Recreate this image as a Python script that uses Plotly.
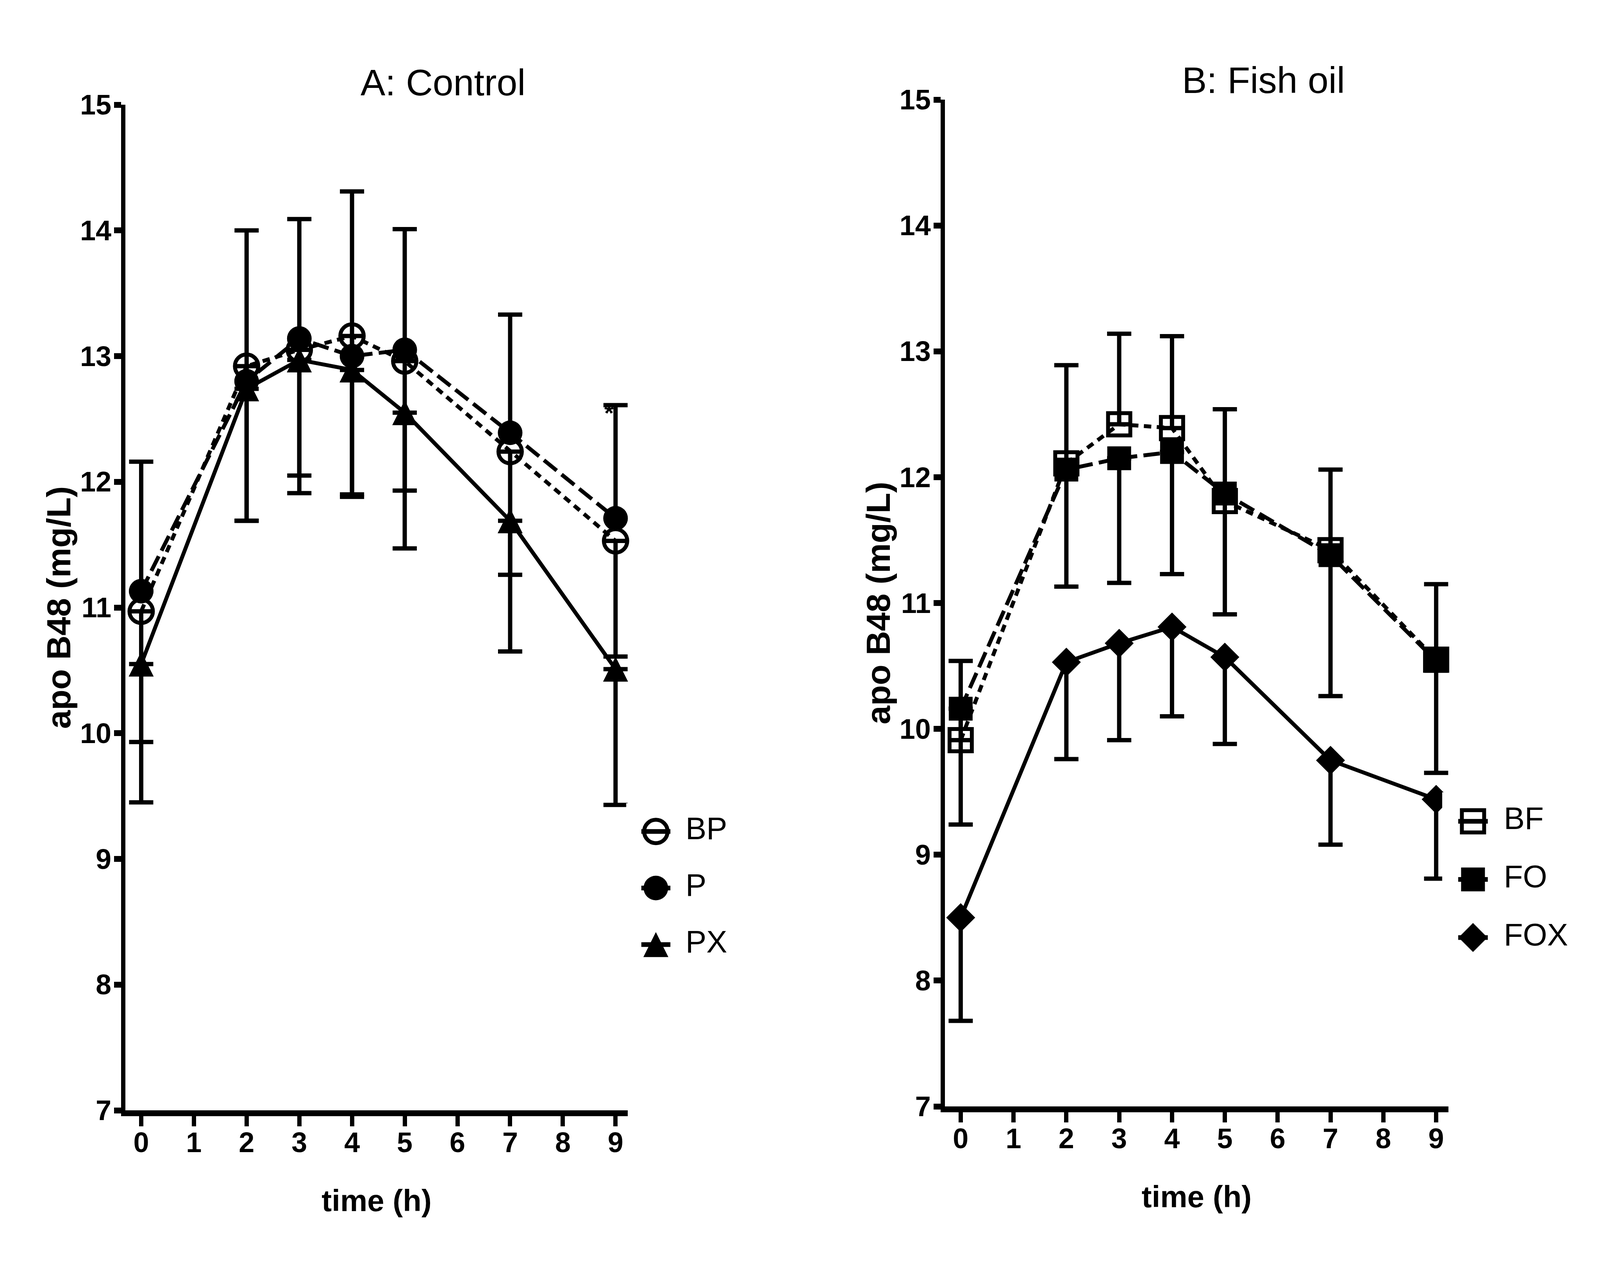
import plotly.graph_objects as go

# time points (h)
times = [0, 2, 3, 4, 5, 7, 9]

# A: Control
bp = [10.97, 12.92, 13.05, 13.16, 12.96, 12.24, 11.53]
bp_err = [1.04, 1.23, 1.00, 1.26, 1.03, 0.98, 0.92]
p = [11.13, 12.80, 13.14, 13.00, 13.05, 12.39, 11.71]
p_err = [1.03, 1.20, 0.95, 1.31, 0.96, 0.94, 0.90]
px = [10.55, 12.74, 12.97, 12.89, 12.55, 11.69, 10.51]
px_err = [1.10, 1.05, 1.06, 1.01, 1.08, 1.04, 1.08]

# B: Fish oil
bf = [9.91, 12.11, 12.42, 12.39, 11.81, 11.42, 10.55]
bf_err = [0.63, 0.78, 0.72, 0.73, 0.73, 0.64, 0.60]
fo = [10.16, 12.06, 12.15, 12.20, 11.87, 11.38, 10.54]
fo_err = [0.92, 0.93, 0.99, 0.97, 0.96, 1.12, 0.89]
fox = [8.50, 10.53, 10.68, 10.81, 10.57, 9.75, 9.44]
fox_err = [0.82, 0.77, 0.77, 0.71, 0.69, 0.67, 0.63]

names_a = ["BP", "P", "PX"]
names_b = ["BF", "FO", "FOX"]

FONT = "Liberation Sans, Arial, sans-serif"

# the window comes up 4096 css px wide (not 5506), so the 5506x3284
# layout is squeezed horizontally; body keeps its 8px default margin
REF_W = 5506
PAGE_W, PAGE_H = 4096, 3284
SX = PAGE_W / REF_W
PAD = 8
FW = PAGE_W - 2 * PAD
FH = PAGE_H - 2 * PAD


def fx(X):
    return (X * SX - PAD) / FW


def fy(Y):
    return 1 - (Y - PAD) / FH


# marker / line style per group
# (PX: an upturned arrow-down, pulled back by half its size, gives a
# centred triangle that is as tall as it is wide)
STYLE = {
    "BP": dict(symbol="circle-open", size=60, lw=10, dash="19px,14px"),
    "P": dict(symbol="circle", size=63, lw=0, dash="42px,16px"),
    "PX": dict(symbol="arrow-down", size=64, lw=0, dash="solid", angle=180, standoff=32),
    "BF": dict(symbol="square-open", size=57, lw=10, dash="19px,14px"),
    "FO": dict(symbol="square", size=61, lw=0, dash="42px,16px"),
    "FOX": dict(symbol="diamond", size=57, lw=0, dash="solid"),
}


def series(name, y, err, up, xa, ya):
    st = STYLE[name]
    zeros = [0] * len(err)
    return go.Scatter(
        x=times,
        y=y,
        name=name,
        mode="lines+markers",
        xaxis=xa,
        yaxis=ya,
        showlegend=False,
        cliponaxis=False,
        line=dict(color="black", width=10, dash=st["dash"]),
        marker=dict(
            symbol=st["symbol"],
            size=st["size"],
            angle=st.get("angle", 0),
            standoff=st.get("standoff", 0),
            color="black",
            opacity=1,
            line=dict(color="black", width=st["lw"]),
        ),
        error_y=dict(
            type="data",
            symmetric=False,
            array=err if up else zeros,
            arrayminus=zeros if up else err,
            color="black",
            thickness=11,
            width=31,
        ),
    )


def key(names, xa, ya, half):
    # hand-made key so the symbols keep their plotted size
    sts = [STYLE[n] for n in names]
    marks = go.Scatter(
        x=[0] * len(names),
        y=names,
        mode="markers",
        xaxis=xa,
        yaxis=ya,
        showlegend=False,
        cliponaxis=False,
        marker=dict(
            symbol=[s["symbol"] for s in sts],
            size=[s["size"] for s in sts],
            angle=[s.get("angle", 0) for s in sts],
            standoff=[s.get("standoff", 0) for s in sts],
            color="black",
            opacity=1,
            line=dict(color="black", width=[s["lw"] for s in sts]),
        ),
        error_x=dict(type="constant", value=half, color="black", thickness=12, width=0),
    )
    labels = go.Scatter(
        x=[1] * len(names),
        y=names,
        mode="text",
        text=names,
        textposition="middle right",
        textfont=dict(family=FONT, size=80, color="black"),
        xaxis=xa,
        yaxis=ya,
        showlegend=False,
        cliponaxis=False,
    )
    return [marks, labels]


traces = [
    series("BP", bp, bp_err, False, "x", "y"),
    series("P", p, p_err, True, "x", "y"),
    series("PX", px, px_err, False, "x", "y"),
    series("BF", bf, bf_err, True, "x2", "y2"),
    series("FO", fo, fo_err, False, "x2", "y2"),
    series("FOX", fox, fox_err, False, "x2", "y2"),
]
traces += key(names_a, "x3", "y3", 0.49)
traces += key(names_b, "x4", "y4", 0.48)


def xax(domain, anchor):
    return dict(
        domain=domain,
        anchor=anchor,
        range=[-0.297, 9.23],
        tickmode="linear",
        tick0=0,
        dtick=1,
        ticks="outside",
        ticklen=26,
        tickwidth=11,
        tickcolor="black",
        ticklabelstandoff=-20,
        showline=True,
        linewidth=15,
        linecolor="black",
        showgrid=False,
        zeroline=False,
        automargin=False,
        tickfont=dict(family=FONT, size=72, color="black", weight="bold"),
        title=dict(
            text="time (h)",
            font=dict(family=FONT, size=78, color="black", weight="bold"),
            standoff=88,
        ),
    )


def yax(domain, anchor):
    return dict(
        domain=domain,
        anchor=anchor,
        range=[7, 15],
        tickmode="linear",
        tick0=7,
        dtick=1,
        ticks="outside",
        ticklen=18,
        tickwidth=15,
        tickcolor="black",
        ticklabelstandoff=-7,
        showline=True,
        linewidth=11,
        linecolor="black",
        showgrid=False,
        zeroline=False,
        automargin=False,
        tickfont=dict(family=FONT, size=72, color="black", weight="bold"),
        title=dict(
            text="apo B48 (mg/L)",
            font=dict(family=FONT, size=86, color="black", weight="bold"),
            standoff=0,
        ),
    )


hidden = dict(visible=False, showgrid=False, zeroline=False, automargin=False)

layout = dict(
    width=FW,
    height=FH,
    margin=dict(l=0, r=0, t=0, b=0),
    paper_bgcolor="white",
    plot_bgcolor="white",
    font=dict(family=FONT, color="black"),
    showlegend=False,
    xaxis=xax([fx(432), fx(2160)], "y"),
    yaxis=yax([fy(2842), fy(268)], "x"),
    xaxis2=xax([fx(3252), fx(4984)], "y2"),
    yaxis2=yax([fy(2832), fy(255)], "x2"),
    xaxis3=dict(hidden, domain=[fx(2155), fx(2461)], range=[-1, 2], anchor="y3"),
    yaxis3=dict(
        hidden, domain=[fy(2490), fy(2056)], range=[2.5, -0.5], anchor="x3",
        type="category", categoryorder="array", categoryarray=names_a,
    ),
    xaxis4=dict(hidden, domain=[fx(4963), fx(5281)], range=[-1, 2], anchor="y4"),
    yaxis4=dict(
        hidden, domain=[fy(2474), fy(2028)], range=[2.5, -0.5], anchor="x4",
        type="category", categoryorder="array", categoryarray=names_b,
    ),
    annotations=[
        dict(text="A: Control", x=fx(1524), y=fy(211), xref="paper", yref="paper",
             showarrow=False, xanchor="center", yanchor="middle",
             font=dict(family=FONT, size=95, color="black")),
        dict(text="B: Fish oil", x=fx(4348), y=fy(205), xref="paper", yref="paper",
             showarrow=False, xanchor="center", yanchor="middle",
             font=dict(family=FONT, size=95, color="black")),
        # significance mark at 9 h, control panel
        dict(text="*", x=8.88, y=12.55, xref="x", yref="y", showarrow=False,
             xanchor="center", yanchor="middle",
             font=dict(family=FONT, size=62, color="black", weight="bold")),
    ],
)

fig = go.Figure(data=traces, layout=layout)
fig.write_html("out.html")
